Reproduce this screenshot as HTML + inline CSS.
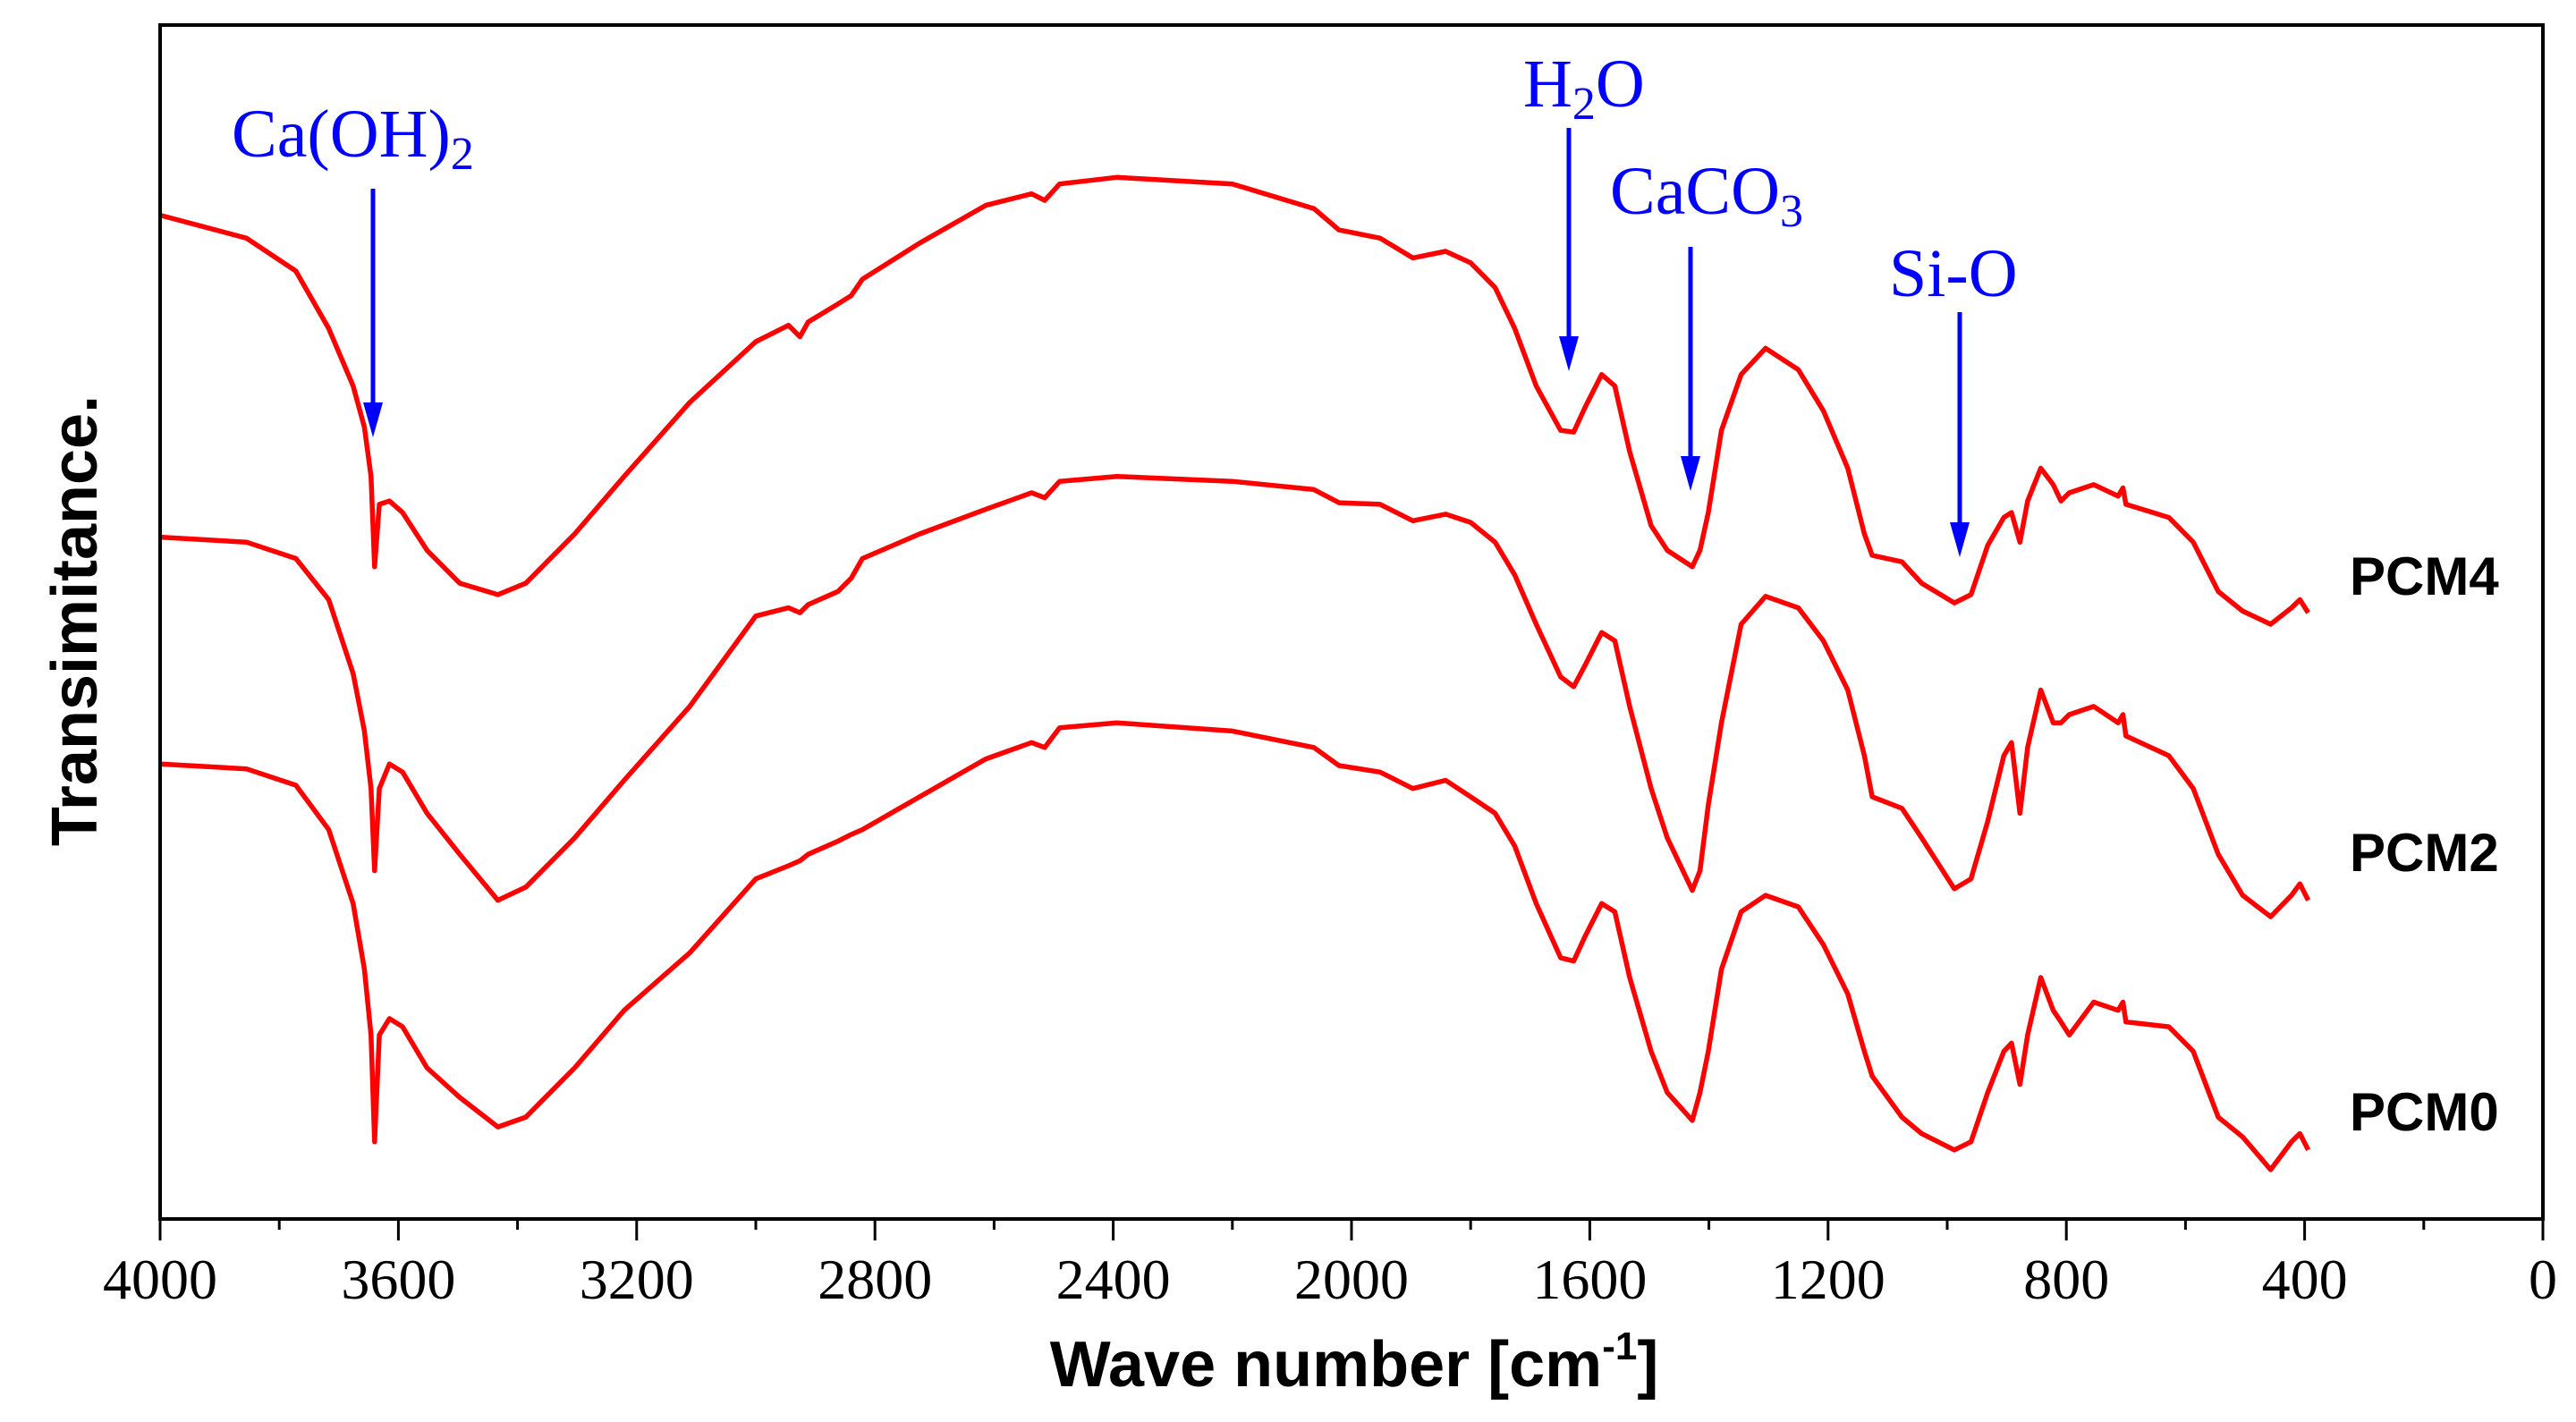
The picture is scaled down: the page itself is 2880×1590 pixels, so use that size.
<!DOCTYPE html>
<html><head><meta charset="utf-8"><style>
html,body{margin:0;padding:0;background:#fff;width:2880px;height:1590px;overflow:hidden}
svg{display:block}
.tk{font-family:"Liberation Serif",serif;font-size:64px;fill:#000}
.ann{font-family:"Liberation Serif",serif;font-size:76px;fill:#0000ff}
.lab{font-family:"Liberation Sans",sans-serif;font-weight:bold;font-size:60px;fill:#000}
.ttl{font-family:"Liberation Sans",sans-serif;font-weight:bold;font-size:72px;fill:#000}
</style></head><body>
<svg id="chart" width="2880" height="1590" viewBox="0 0 2880 1590" xmlns="http://www.w3.org/2000/svg">
<g id="series"></g>
<rect x="179" y="28" width="2664" height="1335" fill="none" stroke="#000" stroke-width="4"/>
<g id="ticks"></g>
<text class="ttl" x="1514" y="1550" text-anchor="middle">Wave number [cm<tspan font-size="44" dy="-30">-1</tspan><tspan dy="30">]</tspan></text>
<text class="ttl" transform="translate(108,694) rotate(-90)" text-anchor="middle">Transimitance.</text>
<g>
<text class="ann" x="259" y="175">Ca(OH)<tspan font-size="52" dy="14">2</tspan></text>
<line x1="417" y1="211" x2="417" y2="455" stroke="#0000ff" stroke-width="5"/>
<polygon points="406,450 428,450 417,489" fill="#0000ff"/>
</g>
<g>
<text class="ann" x="1703" y="119">H<tspan font-size="52" dy="14">2</tspan><tspan dy="-14">O</tspan></text>
<line x1="1754" y1="143" x2="1754" y2="380" stroke="#0000ff" stroke-width="5"/>
<polygon points="1743,376 1765,376 1754,415" fill="#0000ff"/>
</g>
<g>
<text class="ann" x="1800" y="239">CaCO<tspan font-size="52" dy="14">3</tspan></text>
<line x1="1890" y1="276" x2="1890" y2="514" stroke="#0000ff" stroke-width="5"/>
<polygon points="1879,510 1901,510 1890,549" fill="#0000ff"/>
</g>
<g>
<text class="ann" x="2112" y="331">Si-O</text>
<line x1="2191" y1="349" x2="2191" y2="588" stroke="#0000ff" stroke-width="5"/>
<polygon points="2180,584 2202,584 2191,623" fill="#0000ff"/>
</g>
<text class="lab" x="2627" y="665">PCM4</text>
<text class="lab" x="2627" y="974">PCM2</text>
<text class="lab" x="2627" y="1264">PCM0</text>
</svg>
<script>
const wavenumbers=[4000,3855,3772,3717,3676,3657,3646,3640,3632,3615,3593,3552,3497,3433,3386,3304,3221,3111,3000,2945,2926,2912,2862,2840,2821,2725,2614,2537,2515,2490,2394,2200,2063,2021,1952,1897,1842,1800,1759,1726,1690,1649,1627,1608,1580,1558,1533,1497,1470,1428,1415,1401,1379,1346,1305,1250,1208,1167,1139,1126,1076,1043,988,960,932,905,892,878,865,843,822,809,795,754,713,705,700,628,587,545,504,457,422,408,394];
const pcm4=[611,597,577,542,507,482,452,397,435,437,430,407,387,380,387,417,452,497,534,544,537,546,557,562,572,594,617,624,620,630,634,630,615,602,597,585,589,582,567,542,507,480,479,494,514,507,467,422,407,397,407,430,480,514,530,517,492,457,417,404,400,387,375,380,410,427,430,412,437,457,447,437,442,447,440,445,435,427,412,382,370,362,372,377,369];
const pcm2=[415,412,402,377,332,297,262,212,262,277,272,247,222,194,202,232,267,312,367,372,369,374,382,390,402,417,432,442,439,449,452,449,444,436,435,425,429,424,412,392,362,330,324,337,357,352,312,262,232,200,212,252,302,362,379,372,352,322,282,257,250,232,201,207,242,282,290,247,287,322,302,302,307,312,302,307,294,282,262,222,197,184,197,204,194];
const pcm0=[277,274,264,237,192,152,112,47,112,122,117,92,74,56,62,92,127,162,207,215,218,222,230,234,237,257,280,290,287,299,302,297,287,276,272,262,267,257,247,227,192,159,157,172,192,187,147,102,77,60,77,102,152,187,197,190,167,137,102,87,62,52,42,47,77,102,107,82,112,147,127,120,112,132,127,132,120,117,102,62,50,30,47,52,42];
const majorTicks=[4000,3600,3200,2800,2400,2000,1600,1200,800,400,0];
const tickLabels=["4000","3600","3200","2800","2400","2000","1600","1200","800","400","0"];
const NS="http://www.w3.org/2000/svg";
function xScale(w){return 179+(4000-w)/4000*2664;}
function yScale(v){return 1363-v*1.837;}
const sg=document.getElementById('series');
[[pcm4,'series-pcm4'],[pcm2,'series-pcm2'],[pcm0,'series-pcm0']].forEach(([vals,name])=>{
  const n=Math.min(vals.length,wavenumbers.length);
  let d='';
  for(let i=0;i<n;i++){d+=(i?'L':'M')+xScale(wavenumbers[i]).toFixed(1)+','+yScale(vals[i]).toFixed(1);}
  const p=document.createElementNS(NS,'path');
  p.setAttribute('d',d);p.setAttribute('fill','none');p.setAttribute('stroke','#ff0000');
  p.setAttribute('stroke-width','5.5');p.setAttribute('stroke-linejoin','round');
  
  
  sg.appendChild(p);
});
const tg=document.getElementById('ticks');
for(let w=4000;w>=0;w-=200){
  const major=majorTicks.indexOf(w)>=0;
  const l=document.createElementNS(NS,'line');
  const x=xScale(w);
  l.setAttribute('x1',x);l.setAttribute('x2',x);l.setAttribute('y1',1363);l.setAttribute('y2',major?1387:1375);
  l.setAttribute('stroke','#000');l.setAttribute('stroke-width','3');
  
  
  tg.appendChild(l);
}
majorTicks.forEach((w,i)=>{
  const t=document.createElementNS(NS,'text');
  t.setAttribute('x',xScale(w));t.setAttribute('y',1452);t.setAttribute('text-anchor','middle');
  t.setAttribute('class','tk');t.textContent=tickLabels[i];
  
  
  tg.appendChild(t);
});
</script>
</body></html>
